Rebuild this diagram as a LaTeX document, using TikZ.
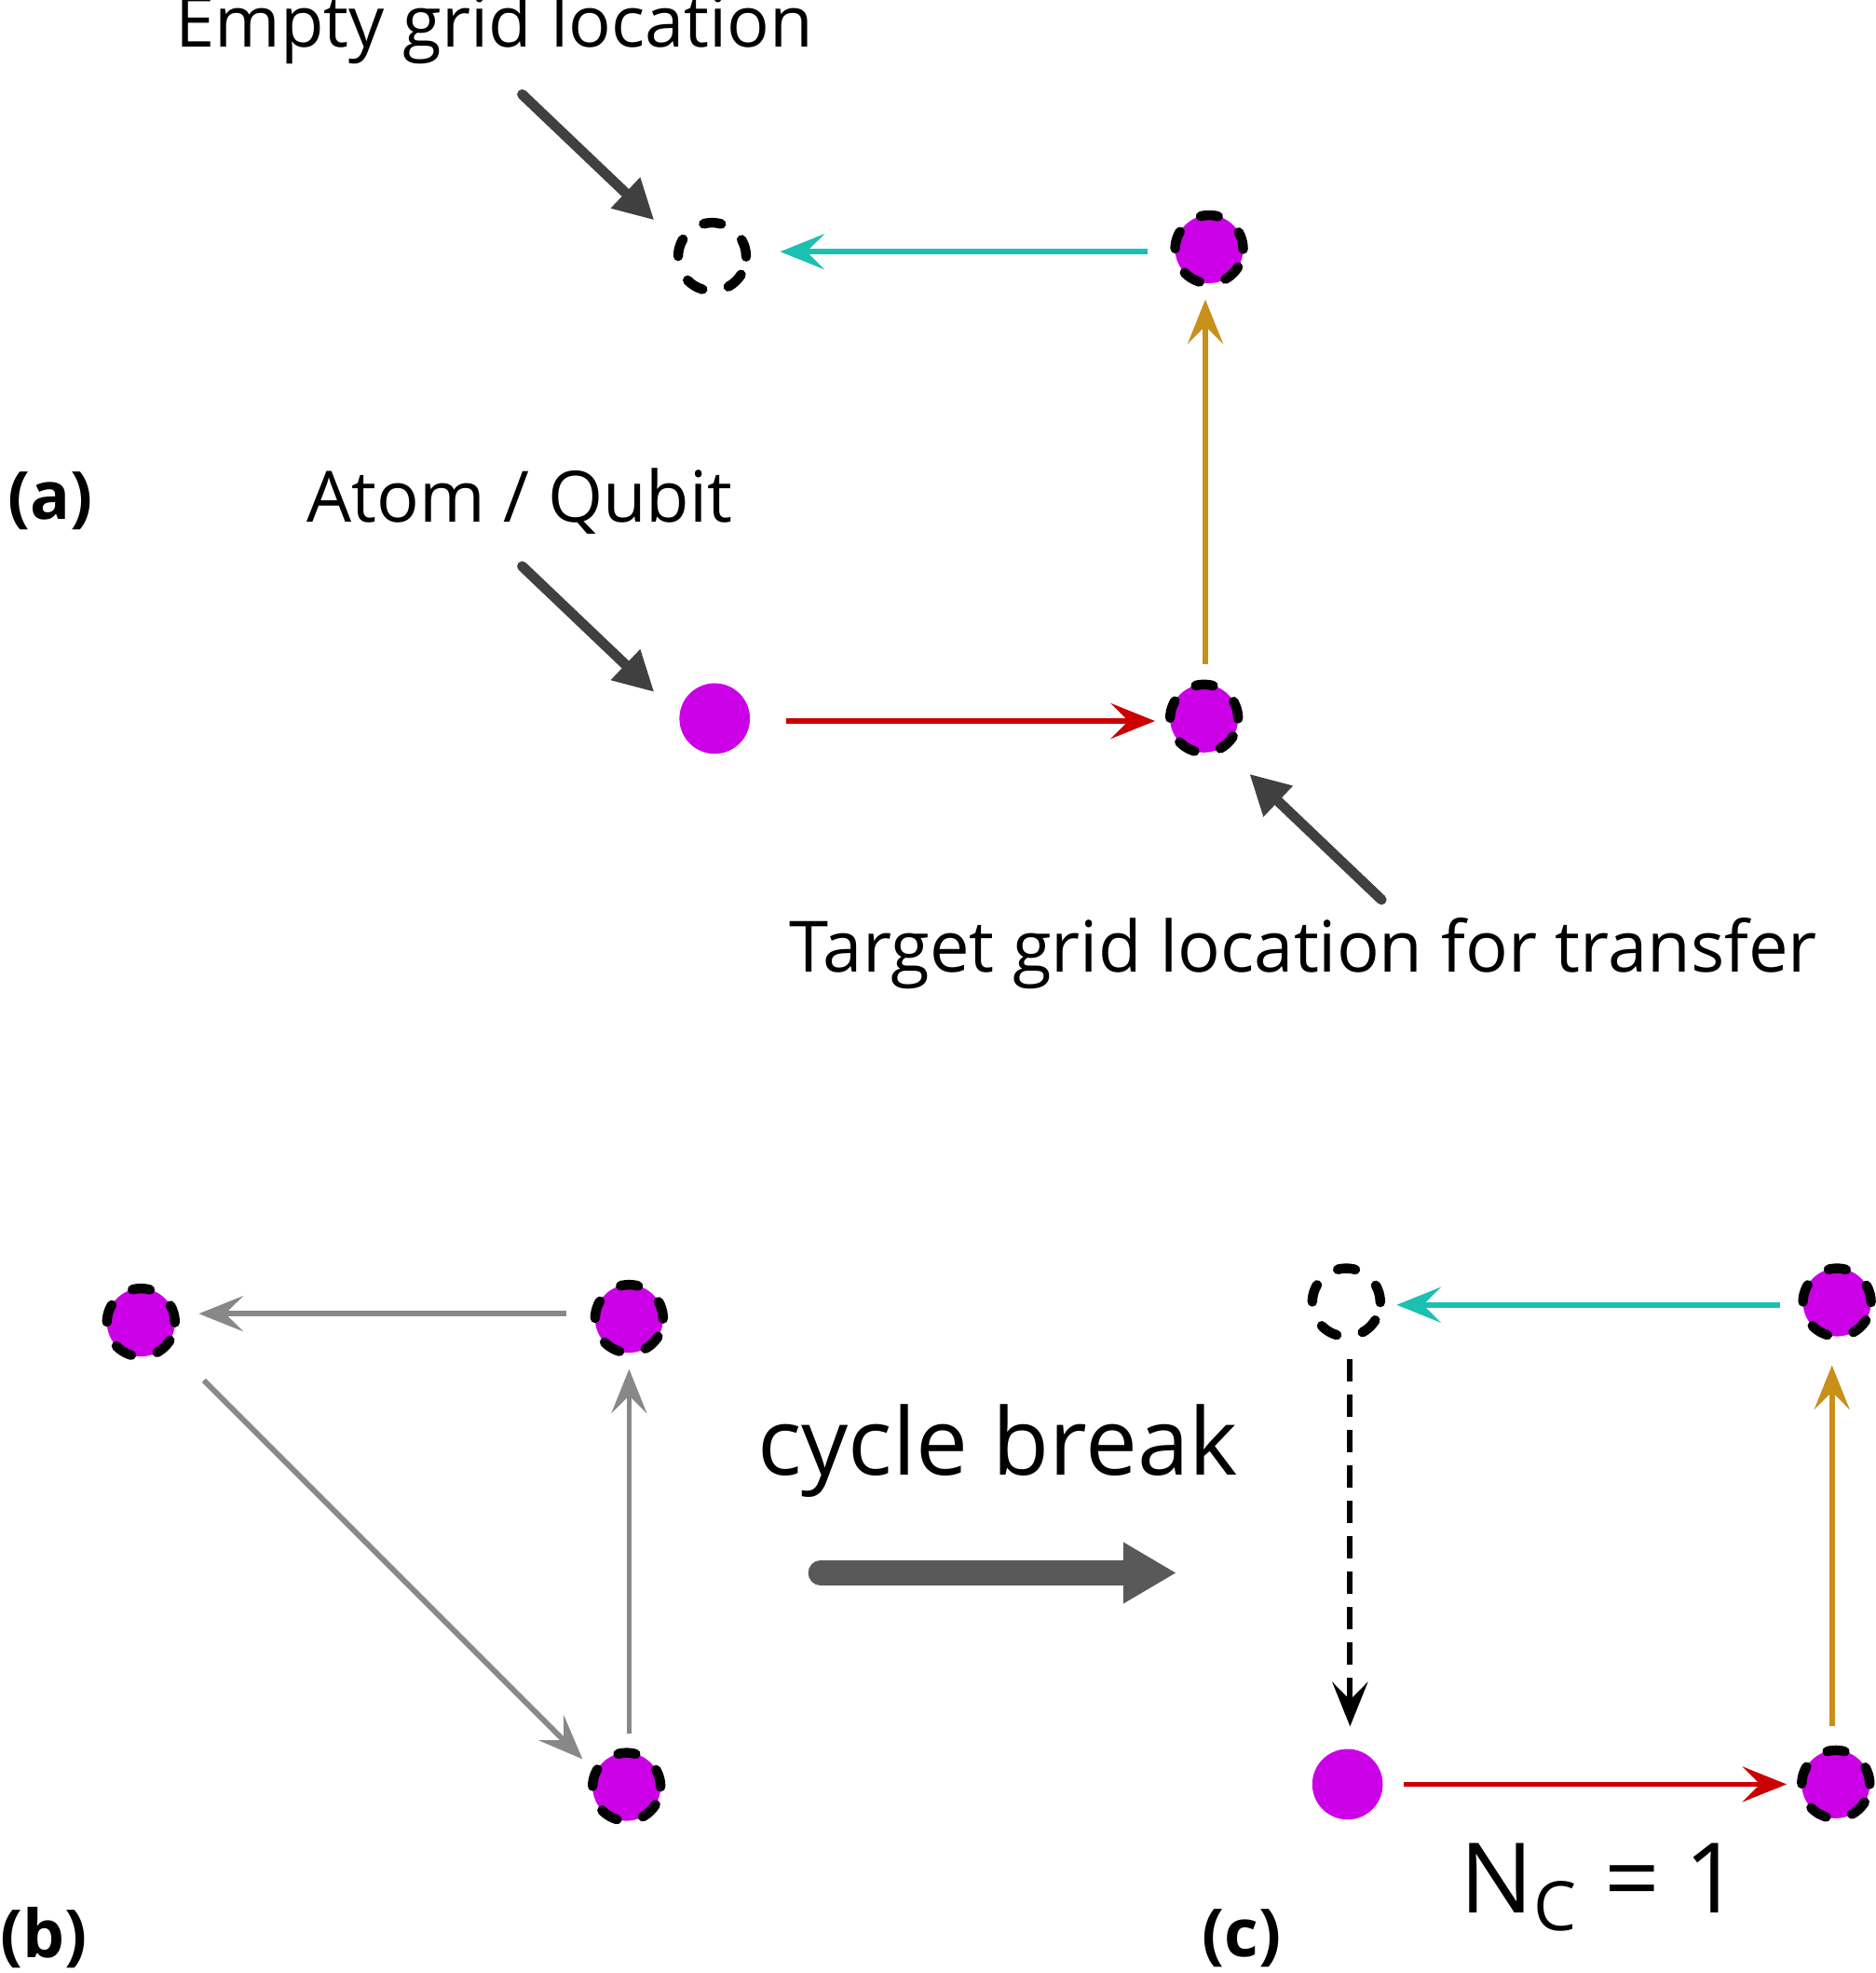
\documentclass[tikz,border=0pt]{standalone}
\usepackage{fontspec}
\setmainfont{Open Sans}
\usetikzlibrary{arrows.meta,calc}
\definecolor{mag}{HTML}{CC00E6}
\definecolor{cy}{HTML}{1CC0B2}
\definecolor{og}{HTML}{C8901A}
\definecolor{rd}{HTML}{CC0000}
\definecolor{dg}{HTML}{404040}
\definecolor{gr}{HTML}{888888}
\begin{document}
\begin{tikzpicture}[x=0.01cm,y=-0.01cm,
  full/.style={circle,fill=mag,minimum size=0.56cm,inner sep=0},
  dfull/.style={circle,fill=mag,draw=black,line width=2.2pt,dash pattern=on 4pt off 6pt,line cap=round,minimum size=0.54cm,inner sep=0},
  empty/.style={circle,draw=black,line width=2.2pt,dash pattern=on 4pt off 6pt,line cap=round,minimum size=0.54cm,inner sep=0},
  lbl/.style={font=\fontsize{16}{19}\selectfont},
  plbl/.style={font=\fontsize{15}{18}\selectfont\bfseries},
  pt/.style={dg,line width=2.3pt,line cap=round,-{Triangle[length=9pt,width=9pt]}},
  mv/.style={line width=1.2pt,-{Stealth[length=10pt,width=8pt,inset=4pt]}}]
\useasboundingbox (0,0) rectangle (1491,1568);
% panel a
\node[lbl] (t1) at (393,23) {Empty grid location};
\node[empty] (e1) at (566,204) {};
\node[dfull] (a2) at (961,198) {};
\node[full] (a1) at (568,571) {};
\node[dfull] (a3) at (957,571) {};
\coordinate (p1) at (415,75);
\coordinate (p2) at (415,450);
\coordinate (p3) at (1098,715);
\draw[pt] (p1) -- (520,175);
\node[plbl] (la) at (40,398) {(a)};
\node[lbl] (t2) at (413,398) {Atom / Qubit};
\draw[pt] (p2) -- (520,550);
\draw[pt] (p3) -- (993,615);
\node[lbl] (t3) at (1036,758) {Target grid location for transfer};
\draw[mv,cy] ($(a2)+(-49,2)$) -- ($(e1)+(54,-4)$);
\draw[mv,og] ($(a3)+(1,-43)$) -- ($(a2)+(-3,40)$);
\draw[mv,rd] ($(a1)+(57,2)$) -- ($(a3)+(-39,2)$);
% panel b
\node[dfull] (b1) at (112,1051) {};
\node[dfull] (b2) at (500,1048) {};
\node[dfull] (b3) at (498,1420) {};
\draw[mv,gr] ($(b2)+(-50,-4)$) -- ($(b1)+(46,-7)$);
\draw[mv,gr] ($(b3)+(2,-42)$) -- ($(b2)+(0,40)$);
\draw[mv,gr] (162,1097) -- (463,1398);
\node[plbl] (lb) at (35,1540) {(b)};
\node[font=\fontsize{21}{24}\selectfont] (cb) at (793,1153) {cycle break};
\coordinate (ba) at (652,1250);
\coordinate (bb) at (935,1250);
\draw[line width=5.5pt,line cap=round,color=black!65,-{Triangle[length=12pt,width=13pt]}] (ba) -- (bb);
% panel c
\node[empty] (c1) at (1070,1035) {};
\node[dfull] (c2) at (1460,1035) {};
\node[full] (c3) at (1071,1418) {};
\node[dfull] (c4) at (1459,1418) {};
\draw[mv,cy] ($(c2)+(-45,2)$) -- ($(c1)+(40,2)$);
\draw[mv,og] ($(c4)+(-3,-46)$) -- ($(c2)+(-4,50)$);
\draw[mv,rd] ($(c3)+(45,0)$) -- ($(c4)+(-39,0)$);
\draw[line width=1.3pt,dash pattern=on 5pt off 3pt,-{Stealth[length=10pt,width=8pt,inset=4pt]}] ($(c1)+(3,45)$) -- ($(c3)+(2,-46)$);
\node[font=\fontsize{22}{26}\selectfont] (nc) at (1272,1500) {N\textsubscript{C} = 1};
\node[plbl] (lc) at (987,1540) {(c)};
\end{tikzpicture}
\end{document}
